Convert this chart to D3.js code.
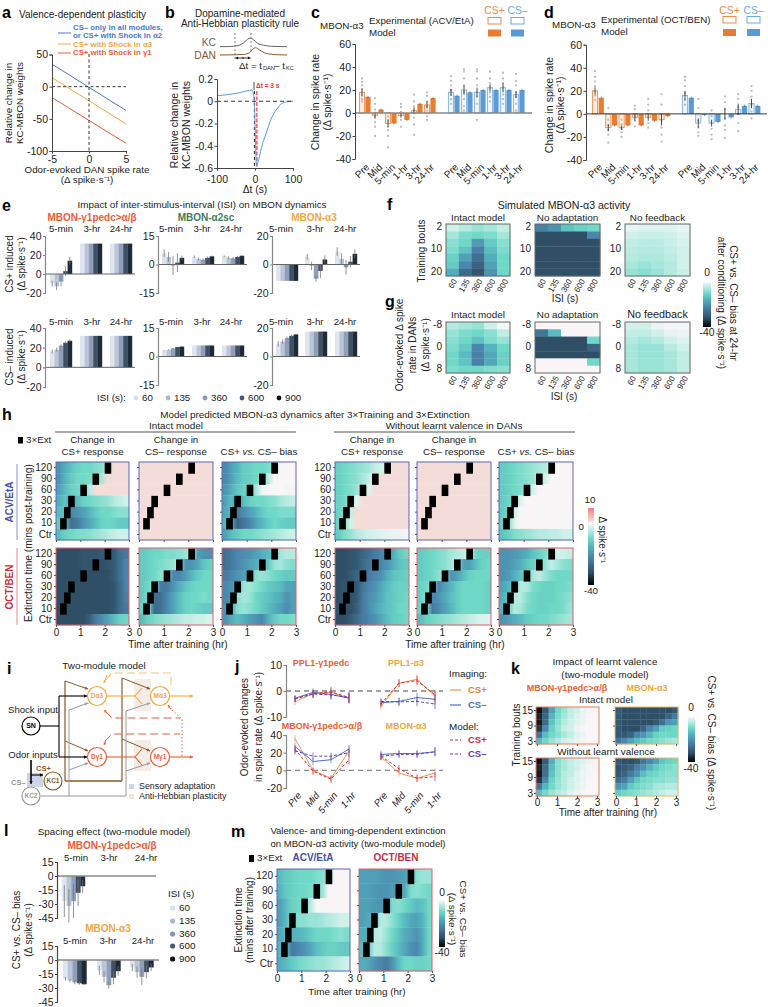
<!DOCTYPE html>
<html><head><meta charset="utf-8">
<script src="https://cdn.jsdelivr.net/npm/d3@7"></script>
<style>html,body{margin:0;background:#fff}svg{display:block;font-family:"Liberation Sans",Arial,sans-serif}</style>
</head><body><script>
// ---------- DATA ----------
const aDan=[-5,5];
const aBlue=[35,-37], aOrange=[14,-58], aRed=[-17,-88];
const bDt=[-100,-50,-8,-3,0,2,4,6,10,15,20,25,32,40,50,60,70,85,100];
const bW=[.05,.07,.1,.04,-.2,-.45,-.58,-.57,-.52,-.45,-.38,-.33,-.26,-.18,-.11,-.06,-.02,-.005,0];
const kcT=[0,10,18,24,28,31,34,38,44,52,68];
const kcY=[0,.02,.12,.45,.85,1,.8,.4,.18,.05,0];
const danT=[0,15,24,30,33,36,40,45,52,60,68];
const danY=[0,.03,.08,.3,.75,1,.7,.3,.1,.03,0];

const phase=["Pre","Mid","5-min","1-hr","3-hr","24-hr"];
const cPlusExp=[18,-2,-9,-2,2,7], cPlusMod=[14,3,-9,-6,8,13];
const cMinusExp=[18,20,18,22,22,16], cMinusMod=[15,18,20,20,20,20];
const cPlusErr=[3,3,3,2,3,3], cMinusErr=[3,4,4,3,4,3];
const cPlusDots=[[30,27,24,21,18,15,12,10],[13,8,3,-3,-8,-12,-20],[-3,-6,-12,-15,-20,-30],[8,5,1,-2,-6,-12],[16,10,6,2,-4,-10,-19],[18,15,10,6,2,-3,-6]];
const cMinusDots=[[32,28,24,20,16,12,8],[38,36,30,24,18,12,6,2],[38,36,30,24,18,14,8,-6],[36,30,26,22,18,14,10],[35,30,26,22,16,12,8],[34,28,24,18,14,8,2]];
const dPlusExp=[20,-12,-12,-3,-3,-5], dPlusMod=[14,-10,-10,-10,-6,-2];
const dMinusExp=[16,-8,-8,0,4,9], dMinusMod=[14,-1,-7,-3,7,7];
const dPlusErr=[3,3,2,3,3,5], dMinusErr=[4,4,3,5,5,4];
const dPlusDots=[[37,32,28,24,20,16,12],[5,-5,-10,-14,-18,-25],[-5,-9,-13,-16,-20],[7,4,-2,-6,-11],[13,8,3,-3,-8,-12],[17,8,0,-6,-12,-18,-24]];
const dMinusDots=[[32,29,24,18,12,8],[13,5,-6,-12,-16,-19],[3,-2,-8,-13,-18,-22],[15,10,4,-4,-10,-14,-21],[17,13,6,0,-8,-15],[24,20,15,8,2,-4]];

const isi=[60,135,360,600,900];
const isiColors=["#dfe5ef","#bac5d8","#8f9fba","#3f5064","#1d2a3a"];
const isiDots=["#d5dcea","#a9b7cc","#7f97b8","#47596e","#0d1520"];
const timeGroups=["5-min","3-hr","24-hr"];
const eG1Plus=[[-10,-13,-8,3,14],[32,32,32,32,32],[32,32,32,32,32]];
const eG1PlusErr=[[3,4,5,5,4],[0,0,0,0,0],[0,0,0,0,0]];
const eA2Plus=[[6,4,-.5,1,3.5],[4,3,2.5,3.5,4.3],[4.3,3.5,3.2,4,4.6]];
const eA2PlusErr=[[2,2.5,5,5,1.2],[.7,.6,.7,.7,.4],[.5,.7,.7,.5,.3]];
const eA3Plus=[[-11.5,-11.5,-11.5,-11.5,-11.5],[5.5,-1,-10,-4.5,3.5],[9,4,-2,2,7.5]];
const eA3PlusErr=[[0,0,0,0,0],[2,3,2,5,3],[3,4,5,4,3]];
const eG1Minus=[[16,18,22,25,27],[32,32,32,32,32],[32,32,32,32,32]];
const eG1MinusErr=[[2,2,1.5,1.5,1.5],[0,0,0,0,0],[0,0,0,0,0]];
const eA2Minus=[[3,3.5,4.3,5,5.2],[5.8,5.8,5.8,5.8,5.8],[5.8,5.8,5.8,5.8,5.8]];
const eA2MinusErr=[[.3,.3,.3,.2,.2],[0,0,0,0,0],[0,0,0,0,0]];
const eA3Minus=[[9,10.5,13,14.5,15.5],[17.5,17.5,17.5,17.5,17.5],[17.5,17.5,17.5,17.5,17.5]];
const eA3MinusErr=[[2,1.5,1,.8,.5],[0,0,0,0,0],[0,0,0,0,0]];

const fIntact=[[-3,-5,-7,-6,-4],[-6,-9,-10,-9,-6],[-8,-10,-19,-12,-8],[-9,-13,-23,-14,-9],[-11,-18,-26,-16,-10],[-12,-22,-28,-18,-10],[-16,-27,-31,-20,-10]];
const fNoAdapt=[[-23,-20,-13,-11,-10],[-32,-32,-32,-32,-22],[-32,-32,-32,-32,-32],[-32,-32,-32,-32,-32],[-32,-32,-32,-32,-32],[-32,-32,-32,-32,-32],[-32,-32,-32,-32,-32]];
const fNoFeed=[[-1.5,-2,-2,-2,-1.5],[-3,-3.5,-3.5,-3,-2],[-4,-4.5,-4.5,-3.5,-2.5],[-4.5,-5,-5,-4,-3],[-5,-5.5,-5.5,-4.5,-3],[-6,-7,-6,-5,-3],[-7,-8,-7,-5,-3.5]];
const gIntact=[[-5,-6,-7,-3,-.5],[-7,-9,-10,-8,-4],[-8,-10,-13,-9,-7],[-9,-12,-22,-15,-10],[-10,-14,-23,-17,-11],[-10,-13,-23,-17,-11],[-9,-10,-10,-9,-8]];
const gNoAdapt=[[0,0,0,0,0],[-25,-14,0,0,0],[-32,-32,-32,-32,-10],[-32,-32,-32,-32,-28],[-32,-32,-32,-32,-32],[0,0,0,0,-10],[0,0,0,0,0]];
const gNoFeed=[[-3,-3,-1,-.5,-.5],[-4,-4,-3,-1.5,-1],[-5,-6,-5,-3,-2],[-6,-7,-7,-5,-3],[-6,-7,-7,-6,-4],[-6,-7,-7,-6,-4],[-6,-7,-7,-6,-4]];
const bouts=["2","10","20"];

const extLabels=["120","90","60","30","20","10","Ctr"];
const extStart=[2,1.5,1,.5,.33,.17,null];
const pink=[1,1,1,1,1,1,1,1,1,1,1,1];
const hA1=[[-20,-16,-13,-11,-10,-10,-9,-8,-5,1,1,1],[-20,-15,-12,-10,-10,-9,-8,-6,1,1,1,1],[-18,-14,-11,-10,-9,-5,1,1,1,1,1,1],[-16,-13,-18,-14,-11,-10,-9,-8,-7,-5,-4,-3],[-14,-13,-22,-20,-18,-15,-12,-10,-10,-9,-8,-8],[-12,-14,-26,-24,-20,-17,-14,-11,-10,-11,-12,-12],[-14,-11,-10,-9,-9,-8,-7,-6,-5,-4,-3,-3]];
const hA2=[pink,pink,pink,pink,pink,pink,pink];
const hA3=[[-22,-18,-15,-12,-11,-10,-10,-9,-7,0,0,0],[-22,-18,-14,-12,-11,-10,-8,-5,0,0,0,0],[-20,-16,-13,-11,-10,-6,-1,-.5,0,0,-.5,-.5],[-18,-14,-19,-14,-11,-10,-10,-9,-8,-6,-5,-4],[-17,-15,-24,-21,-18,-15,-12,-10,-10,-9,-9,-9],[-15,-17,-28,-25,-22,-18,-15,-12,-10,-11,-12,-12],[-18,-14,-12,-10,-10,-9,-8,-7,-6,-5,-4,-3]];
const hA4=[[-11,-10,-9,-8,-7,-6,-4,-3,-2,1,1,1],[-11,-10,-9,-8,-6,-4,-2,1,1,1,1,1],[-11,-10,-9,-7,-4,-2,1,1,1,1,1,1],[-11,-10,-6,-2,1,1,1,1,1,1,1,1],[-11,-9,-4,1,1,1,1,1,1,1,1,1],[-11,-8,-3,1,1,1,1,1,1,1,1,1],[-12,-9,-7,-5,-4,-3,-2.5,-2,-1.5,-1,-1,-.5]];
const hA5=hA2;
const hA6=[[-12,-11,-10,-9,-8,-7,-6,-5,-4,0,0,0],[-12,-11,-10,-9,-8,-7,-5,-3,0,0,0,0],[-12,-11,-10,-9,-6,-3,0,0,0,0,0,0],[-12,-11,-8,-2,0,0,0,0,0,0,0,0],[-12,-10,-3,0,0,0,0,0,0,0,0,0],[-11,-9,-2,0,0,0,0,0,0,0,-.3,-.3],[-13,-11,-9,-8,-7,-6,-5,-5,-4,-4,-3,-3]];
const hO1=[[-32,-32,-32,-32,-31,-31,-31,-30,-31,-30,-26,-24],[-32,-32,-32,-32,-31,-31,-32,-32,-31,-30,-26,-22],[-32,-32,-32,-32,-32,-32,-32,-32,-32,-30,-26,-22],[-32,-32,-32,-32,-32,-32,-32,-32,-32,-31,-27,-22],[-32,-32,-32,-32,-32,-32,-32,-32,-32,-31,-27,-23],[-32,-32,-32,-32,-32,-32,-32,-32,-32,-31,-27,-24],[-32,-32,-32,-32,-32,-29,-24,-21,-18,-14,-11,-10]];
const hO2=[[-12,-11,-10,-10,-9,-9,-8,-7,-5,-18,-20,-21],[-12,-11,-10,-9,-8,-7,-5,-20,-20,-17,-13,-11],[-12,-11,-10,-8,-6,-22,-22,-19,-15,-12,-10,-10],[-12,-10,-8,-24,-24,-20,-16,-13,-11,-10,-10,-10],[-12,-9,-26,-26,-22,-18,-14,-11,-10,-10,-9,-10],[-11,-9,-27,-26,-22,-18,-14,-11,-10,-11,-12,-12],[-14,-11,-9,-8,-7,-6,-5,-4,-4,-3,-3,-2]];
const hO3=[[-26,-24,-22,-21,-20,-18,-16,-14,-12,-6,-5,-5],[-26,-24,-22,-20,-18,-16,-14,-12,-7,-6,-8,-9],[-24,-22,-20,-18,-16,-8,-7,-8,-10,-11,-12,-12],[-22,-20,-18,-7,-6,-8,-10,-12,-13,-14,-17,-18],[-22,-20,-8,-6,-7,-10,-12,-13,-15,-16,-20,-18],[-20,-18,-8,-7,-8,-10,-12,-14,-16,-18,-21,-18],[-20,-16,-14,-16,-18,-20,-22,-16,-12,-10,-10,-9]];
const hO4=[[-32,-32,-31,-30,-28,-26,-24,-22,-20,-16,-12,-10],[-32,-32,-31,-30,-27,-25,-23,-22,-20,-16,-13,-12],[-32,-32,-30,-28,-26,-24,-22,-20,-16,-13,-12,-11],[-32,-31,-32,-30,-25,-22,-20,-17,-14,-12,-11,-11],[-32,-31,-32,-30,-24,-21,-19,-16,-13,-12,-11,-10],[-31,-31,-32,-29,-24,-21,-18,-15,-13,-12,-10,-10],[-32,-32,-30,-27,-24,-22,-20,-17,-14,-12,-11,-10]];
const hO5=[[-12,-11,-10,-9,-8,-6,-5,-4,-3,-10,-11,-11],[-12,-11,-10,-9,-8,-6,-4,-18,-18,-14,-11,-10],[-12,-11,-10,-8,-5,-20,-18,-14,-11,-10,-10,-10],[-11,-10,-7,-22,-18,-15,-12,-10,-10,-10,-10,-11],[-11,-8,-22,-20,-17,-14,-12,-10,-10,-10,-10,-11],[-10,-8,-24,-21,-18,-15,-12,-10,-10,-10,-10,-11],[-14,-11,-10,-9,-8,-7,-6,-5,-4,-3,-2,-2]];
const hO6=[[-20,-20,-19,-18,-16,-13,-11,-9,-6,-3,-3,-4],[-20,-20,-18,-16,-13,-11,-9,-7,-4,-6,-8,-9],[-20,-19,-16,-13,-11,-6,-4,-7,-9,-10,-10,-10],[-18,-15,-12,-5,-5,-9,-10,-11,-11,-10,-10,-9],[-16,-13,-5,-5,-8,-10,-11,-11,-11,-10,-9,-8],[-15,-12,-5,-6,-9,-10,-11,-11,-10,-10,-9,-7],[-20,-18,-16,-14,-12,-11,-10,-10,-9,-8,-7,-6]];

const jPhase=["Pre","Mid","5-min","1-hr"];
const jPPLg=[[-4.2,-1,-.5,-2.8],[-2.8,-.5,-1.3,-2.8],[-3,-1,-.3,-2.5],[-3,-1.2,-1.5,-2.5]];
const jPPLa=[[-6,3,4.5,-2],[-4.5,-4,-2.5,-3.2],[-5,3,4,-1.5],[-4,-4.2,-4,-5]];
const jMBg=[[36,0,-9,22],[27,10,12,24],[24,-1,-10,12],[22,16,16,20]];
const jMBa=[[15,-3,-9,-3],[18,19,19,21],[16,2,-9,-7],[16,18,18,21]];
const jErrTop=[1.2,1.5,1.8,2], jErrBot=[4,4,4,5];

const kG1=[[-38,-30,-18,-10,-7,-4,-3,-1,-.5,0],[-36,-28,-15,-9,-6,-4,-2,-1,0,0],[-37,-27,-13,-8,-5,-3,-2,-1,0,0],[-34,-22,-11,-7,-4,-3,-1,-.5,0,0],[-25,-14,-10,-8,-6,-4,-2,-1,0,0],[-14,-10,-7,-5,-3,-2,-1,-.5,0,0]];
const kA3=[[-30,-32,-32,-32,-32,-32,-32,-32,-32,-30],[-30,-32,-32,-32,-32,-32,-32,-32,-28,-24],[-30,-32,-32,-32,-32,-32,-30,-26,-20,-18],[-30,-32,-32,-32,-28,-22,-18,-12,-11,-10],[-30,-30,-28,-22,-20,-15,-11,-10,-10,-10],[-25,-22,-18,-14,-12,-10,-9,-8,-7,-6]];
const kG1No=[[-38,-30,-16,-8,-6,-4,-3,-2,-1,-.5],[-36,-27,-14,-8,-6,-4,-3,-1.5,-.5,-.5],[-37,-26,-13,-8,-5,-4,-2,-1,-.5,0],[-34,-22,-11,-7,-5,-3,-2,-1,0,0],[-25,-15,-10,-7,-5,-3,-2,-1,0,0],[-14,-10,-7,-5,-4,-2,-1,-.5,0,0]];
const kA3No=[[-30,-32,-32,-30,-25,-22,-18,-13,-11,-10],[-31,-30,-28,-23,-20,-15,-12,-10,-9,-8],[-30,-28,-24,-20,-14,-11,-10,-9,-8,-8],[-26,-24,-18,-13,-10,-9,-8,-8,-7,-7],[-20,-18,-12,-10,-9,-8,-6,-6,-5,-5],[-12,-10,-9,-8,-7,-6,-5,-4,-3,-3]];

const lG1=[[-27,-32,-27,-18,-11],[0,0,0,0,0],[0,0,0,0,0]];
const lG1Err=[[17,18,18,14,7],[0,0,0,0,0],[0,0,0,0,0]];
const lA3=[[-20,-22,-24,-25,-26],[-11,-18,-27,-19,-12],[-8,-13,-18,-13,-8]];
const lA3Err=[[2,2,2,1.5,1],[5,6,4,7,5],[4,6,9,7,4]];

const mAcv=[[-14,-12,-11,-10,-10,-10,-9,-8,-7,0,0,0],[-15,-12,-11,-10,-10,-9,-8,-7,0,0,0,0],[-18,-14,-11,-10,-9,-5,0,0,0,0,0,0],[-18,-14,-9,-8,-8,-7,-7,-6,-5,-4,-3,-3],[-17,-14,-16,-15,-14,-12,-10,-10,-10,-9,-8,-9],[-15,-14,-24,-22,-20,-17,-14,-12,-11,-11,-12,-12],[-16,-14,-12,-10,-9,-8,-7,-7,-6,-5,-4,-3]];
const mOct=[[-18,-18,-18,-19,-20,-20,-19,-18,-15,-8,-7,-7],[-18,-18,-19,-20,-20,-19,-18,-17,-9,-8,-9,-10],[-18,-18,-19,-20,-19,-9,-8,-10,-12,-14,-13,-10],[-18,-17,-16,-5,-5,-8,-11,-14,-17,-18,-15,-10],[-16,-16,-5,-4,-7,-10,-13,-16,-18,-20,-16,-10],[-14,-13,-5,-5,-8,-11,-14,-17,-20,-22,-16,-10],[-16,-17,-20,-22,-24,-20,-14,-10,-10,-11,-11,-10]];

// ---------- COLOURS ----------
const BLUE="#4a7ac8",ORG="#f0a83c",RED="#ee5c36",INK="#222",ACV="#5a67b8",OCT="#d9606a",GREEN="#3d7d5a",RED2="#d22a3a",PURPLE="#6a3ab0",BROWN="#8a5a2b",TAN="#a5825c",GRAY="#9a9a9a";
const cmap=d3.scaleLinear().domain([10,5,1,0,-3,-10,-15,-22,-32,-40]).range(["#ee7d7d","#f2b9b3","#f4dcd8","#faf6f8","#cff1ea","#6fd8c6","#55b5be","#4a86ad","#2f4f66","#000"]).clamp(true);

// ---------- HELPERS ----------
const svg=d3.select("body").append("svg").attr("width",768).attr("height",1007);
const defs=svg.append("defs");
let gid=0;
function T(x,y,s,o={}){
  const fs=(o.size||9.5)*(o.bold?1:1.03);
  const t=svg.append("text").attr("x",x).attr("y",y).text(s)
    .attr("font-size",fs).attr("fill",o.fill||INK).attr("text-anchor",o.a||"middle").attr("dominant-baseline","middle");
  if(o.bold)t.attr("font-weight","bold");
  if(o.italic)t.attr("font-style","italic");
  if(o.rot!=null)t.attr("transform",`rotate(${o.rot},${x},${y})`);
  return t;
}
const letter=(x,y,s)=>T(x,y,s,{size:16,bold:true,a:"start",fill:"#000"});
function axL(x,scale,ticks,o={}){
  const g=svg.append("g").attr("transform",`translate(${x},0)`).call(d3.axisLeft(scale).tickValues(ticks).tickSize(o.ts??2.5).tickPadding(o.tp??1.5).tickFormat(o.fmt||String));
  g.selectAll("text").attr("font-size",o.size||10.5).attr("fill",INK).attr("font-family","inherit");
  g.selectAll("line,path").attr("stroke",o.stroke||"#444").attr("stroke-width",o.sw||1);
  return g;
}
function axB(y,scale,ticks,o={}){
  const g=svg.append("g").attr("transform",`translate(0,${y})`).call(d3.axisBottom(scale).tickValues(ticks).tickSize(o.ts??2.5).tickPadding(o.tp??2).tickFormat(o.fmt||String));
  g.selectAll("text").attr("font-size",o.size||10.5).attr("fill",INK).attr("font-family","inherit");
  g.selectAll("line,path").attr("stroke",o.stroke||"#444").attr("stroke-width",o.sw||1);
  return g;
}
function line(x1,y1,x2,y2,c,w=1,dash){const l=svg.append("line").attr("x1",x1).attr("y1",y1).attr("x2",x2).attr("y2",y2).attr("stroke",c).attr("stroke-width",w);if(dash)l.attr("stroke-dasharray",dash);return l;}
function poly(pts,c,w=1,dash){const l=svg.append("path").attr("d",d3.line()(pts)).attr("fill","none").attr("stroke",c).attr("stroke-width",w);if(dash)l.attr("stroke-dasharray",dash);return l;}
function rect(x,y,w,h,f){return svg.append("rect").attr("x",x).attr("y",y).attr("width",w).attr("height",h).attr("fill",f);}
function arrow(x1,y1,x2,y2,c,w=1,sz=3.5){
  line(x1,y1,x2,y2,c,w);
  const a=Math.atan2(y2-y1,x2-x1),p=[[x2,y2],[x2-sz*Math.cos(a-.5),y2-sz*Math.sin(a-.5)],[x2-sz*Math.cos(a+.5),y2-sz*Math.sin(a+.5)]];
  svg.append("path").attr("d",d3.line()(p)+"Z").attr("fill",c);
}
function circ(x,y,r,c,w=1.2,lab,o={}){
  svg.append("circle").attr("cx",x).attr("cy",y).attr("r",r).attr("fill","#fff").attr("stroke",c).attr("stroke-width",w);
  if(lab)T(x,y,lab,{size:o.size||6.5,bold:true,fill:c});
}
function heat(x0,x1,y0,y1,rows,o={}){
  const ny=d3.scaleBand().domain(d3.range(rows.length)).range([y0,y1]);
  const nx=d3.scaleBand().domain(d3.range(rows[0].length)).range([x0,x1]);
  rows.forEach((r,i)=>{
    if(o.smooth){
      const id="g"+(gid++),lg=defs.append("linearGradient").attr("id",id);
      r.forEach((v,j)=>lg.append("stop").attr("offset",(j+.5)/r.length).attr("stop-color",cmap(v)));
      rect(x0,ny(i),x1-x0,ny.bandwidth()+.3,`url(#${id})`);
    } else svg.append("g").selectAll("rect").data(r).join("rect").attr("x",(d,j)=>nx(j)).attr("y",ny(i)).attr("width",nx.bandwidth()+.3).attr("height",ny.bandwidth()+.3).attr("fill",d=>cmap(d));
  });
  return ny;
}
function box(x0,x1,y0,y1,c,w=1){svg.append("rect").attr("x",x0).attr("y",y0).attr("width",x1-x0).attr("height",y1-y0).attr("fill","none").attr("stroke",c).attr("stroke-width",w);}
function colorbar(x,w,y0,y1,hi,lo){
  const id="g"+(gid++),lg=defs.append("linearGradient").attr("id",id).attr("x1",0).attr("x2",0).attr("y1",0).attr("y2",1);
  d3.range(0,21).forEach(i=>lg.append("stop").attr("offset",i/20).attr("stop-color",cmap(hi+(lo-hi)*i/20)));
  rect(x,y0,w,y1-y0,`url(#${id})`);
}

// ---------- a ----------
letter(2,14,"a");
T(19,15,"Valence-dependent plasticity",{a:"start",size:9.7});
const aL=[[aBlue,BLUE],[aOrange,ORG],[aRed,RED]];
const ax=d3.scaleLinear().domain([-5,5]).range([52,126]),ay=d3.scaleLinear().domain([-100,50]).range([151,54.5]);
aL.forEach(([v,c])=>poly(aDan.map((d,i)=>[ax(d),ay(v[i])]),c,1));
line(ax(0),54,ax(0),151,"#222",.9,"3 2.5");line(52,ay(0),126,ay(0),"#222",.9,"3 2.5");
axL(52,ay,[50,0,-50,-100]);axB(151,ax,[-5,0,5]);
[[33,BLUE],[44,ORG],[53,RED]].forEach(([y,c])=>line(58,y,71,y,c,1));
T(73,28,"CS– only in all modules,",{a:"start",size:7.8,bold:true,fill:BLUE});
T(73,36,"or CS+ with Shock in α2",{a:"start",size:7.8,bold:true,fill:BLUE});
T(73,44.5,"CS+ with Shock in α3",{a:"start",size:7.8,bold:true,fill:ORG});
T(73,53,"CS+ with Shock in γ1",{a:"start",size:7.8,bold:true,fill:RED});
T(9,103,"Relative change in",{rot:-90,size:9.5});T(20,103,"KC-MBON weights",{rot:-90,size:9.5});
T(87,170,"Odor-evoked DAN spike rate",{size:9.5});T(87,180,"(Δ spike·s⁻¹)",{size:9.5});

// ---------- b ----------
letter(165,14,"b");
T(240,14,"Dopamine-mediated",{size:9.7});T(240,24,"Anti-Hebbian plasticity rule",{size:9.7});
T(216,43,"KC",{a:"end",size:10,fill:"#666"});T(216,56,"DAN",{a:"end",size:10,fill:"#8a5a2b"});
const trX=d3.scaleLinear().domain([0,68]).range([220,287]);
const kcSc=d3.scaleLinear().domain([0,1]).range([46.7,38]),danSc=d3.scaleLinear().domain([0,1]).range([55,47.7]);
svg.append("path").attr("d",d3.line().curve(d3.curveMonotoneX).x((d,i)=>trX(kcT[i])).y(d=>kcSc(d))(kcY)).attr("fill","none").attr("stroke","#666");
svg.append("path").attr("d",d3.line().curve(d3.curveMonotoneX).x((d,i)=>trX(danT[i])).y(d=>danSc(d))(danY)).attr("fill","none").attr("stroke","#8a5a2b");
line(235,33,235,60,"#666",.8,"2 2");line(251,33,251,52,"#8a5a2b",.8,"2 2");
arrow(244,58,235.5,58,"#000",.8,3);arrow(242,58,250.5,58,"#000",.8,3);
T(239,66,"Δt = t",{a:"start",size:9.5});T(263,68,"DAN",{a:"start",size:5.5});T(274,66,"– t",{a:"start",size:9.5});T(286,68,"KC",{a:"start",size:5.5});
const bx=d3.scaleLinear().domain([-100,100]).range([217,293]),by=d3.scaleLinear().domain([-.6,.2]).range([168,79]);
line(bx(0)-1,82,bx(0)-1,90,"#222",.8);
line(bx(3)+.6,91,bx(3)+.6,168,"#ee6b78",1.8,"4 1.5");line(bx(0)-.6,91,bx(0)-.6,168,"#222",1,"3 3");
svg.append("path").attr("d",d3.line().curve(d3.curveMonotoneX).x((d,i)=>bx(bDt[i])).y(d=>by(d))(bW)).attr("fill","none").attr("stroke","#5a9ad8").attr("stroke-width",1);
line(217,by(0),293,by(0),"#222",.9,"4 3");
axL(217,by,[.2,0,-.2,-.4,-.6],{fmt:d=>d===0?"0":String(d)});axB(168,bx,[-100,0,100],{tp:5});
T(255,190,"Δt (s)",{size:10});
T(256,86,"Δt = 3 s",{a:"start",size:6.5,bold:true,fill:"#e8303f"});
T(175,125,"Relative change in",{rot:-90,size:10.2});T(187,125,"KC-MBON weights",{rot:-90,size:10.2});

// ---------- c,d ----------
function barPanel(o){
  const y=d3.scaleLinear().domain([-40,60]).range(o.yr);
  const cl=[["#ee8a4a","#e87d32"],["#7fb0e0","#5b9bd5"]];
  [[o.pe,o.pm,o.pd,o.perr,0,o.plus0],[o.me,o.mm,o.md,o.merr,1,o.minus0]].forEach(([e,m,dots,err,ci,x0])=>{
    const w=5.2;
    const xp=i=>x0+o.step*i;
    svg.append("g").selectAll("rect").data(e).join("rect").attr("x",(d,i)=>xp(i)-w/2).attr("width",w).attr("y",d=>y(Math.max(d,0))).attr("height",d=>Math.abs(y(d)-y(0))).attr("fill",ci?"#eef5fc":"#fdeee2").attr("stroke",cl[ci][0]).attr("stroke-width",.9);
    svg.append("g").selectAll("rect").data(m).join("rect").attr("x",(d,i)=>xp(i)+o.mOff-w/2).attr("width",w).attr("y",d=>y(Math.max(d,0))).attr("height",d=>Math.abs(y(d)-y(0))).attr("fill",cl[ci][1]);
    dots.forEach((ds,i)=>svg.append("g").selectAll("circle").data(ds).join("circle").attr("cx",xp(i)).attr("cy",d=>y(d)).attr("r",1.15).attr("fill","#bcbcbc"));
    e.forEach((v,i)=>line(xp(i),y(v-err[i]),xp(i),y(v+err[i]),"#222",.8));
    m.forEach((v,i)=>line(xp(i)+o.mOff,y(v-1),xp(i)+o.mOff,y(v+1),"#555",.6));
    phase.forEach((p,i)=>T(xp(i)+6,o.lab,p,{size:9.6,a:"end",rot:-45}));
  });
  line(o.ax,y(0),o.xEnd,y(0),o.zc,o.zw);
  axL(o.ax,y,[60,40,20,0,-20,-40]);
}
letter(311,14,"c");
barPanel({yr:[159,44],ax:355,xEnd:532,plus0:362,minus0:451,step:13,mOff:6,pe:cPlusExp,pm:cPlusMod,pd:cPlusDots,perr:cPlusErr,me:cMinusExp,mm:cMinusMod,md:cMinusDots,merr:cMinusErr,lab:166,zc:"#888",zw:1.4});
T(320,26,"MBON-α3",{a:"start",size:9.5});
T(369,21,"Experimental (ACV/EtA)",{a:"start",size:9.5});T(369,33,"Model",{a:"start",size:9.5});
T(316,102,"Change in spike rate",{rot:-90,size:10.2});T(328,102,"(Δ spike·s⁻¹)",{rot:-90,size:10.2});
function cdLegend(xa,xb,ya,yb){
  T(xa+6.5,11,"CS+",{size:10,fill:"#ee8a4a"});T(xb+6.5,11,"CS–",{size:10,fill:"#6fa8dc"});
  svg.append("rect").attr("x",xa).attr("y",ya).attr("width",13).attr("height",6.5).attr("fill","#fff").attr("stroke","#ee8a4a");
  svg.append("rect").attr("x",xb).attr("y",ya).attr("width",13).attr("height",6.5).attr("fill","#fff").attr("stroke","#6fa8dc");
  rect(xa,yb,13,7,"#e87d32");rect(xb,yb,13,7,"#5b9bd5");
}
cdLegend(488,511,17.5,29.5);
letter(544,14,"d");
barPanel({yr:[160,44.7],ax:586,xEnd:767,plus0:595,minus0:685,step:13.3,mOff:6.3,pe:dPlusExp,pm:dPlusMod,pd:dPlusDots,perr:dPlusErr,me:dMinusExp,mm:dMinusMod,md:dMinusDots,merr:dMinusErr,lab:166,zc:"#222",zw:.9});
T(552,25,"MBON-α3",{a:"start",size:9.5});
T(601,20,"Experimental (OCT/BEN)",{a:"start",size:9.5});T(601,32,"Model",{a:"start",size:9.5});
T(550,105,"Change in spike rate",{rot:-90,size:10.2});T(561,105,"(Δ spike·s⁻¹)",{rot:-90,size:10.2});
cdLegend(723,747,16.5,29);

// ---------- e ----------
letter(2,207,"e");
T(202,205,"Impact of inter-stimulus-interval (ISI) on MBON dynamics",{size:9.6});
T(92,218,"MBON-γ1pedc>α/β",{size:10,bold:true,fill:RED});T(206,218,"MBON-α2sc",{size:10,bold:true,fill:GREEN});T(314,218,"MBON-α3",{size:10,bold:true,fill:ORG});
function isiBars(o){
  const y=d3.scaleLinear().domain(o.dom).range(o.r);
  const w=o.w||4.4;
  o.data.forEach((g,gi)=>{
    const x=d3.scaleBand().domain(isi).range([o.g0[gi],o.g0[gi]+5*w]);
    svg.append("g").selectAll("rect").data(g).join("rect").attr("x",(d,i)=>x(isi[i])).attr("width",x.bandwidth()+.2).attr("y",d=>y(Math.max(d,0))).attr("height",d=>Math.abs(y(d)-y(0))).attr("fill",(d,i)=>isiColors[i]);
    g.forEach((v,i)=>{if(o.err[gi][i])line(x(isi[i])+w/2,y(v-o.err[gi][i]),x(isi[i])+w/2,y(v+o.err[gi][i]),"#777",.8);});
    if(o.labY)T(o.labs[gi],o.labY,timeGroups[gi],{size:9.4});
  });
  line(o.ax,y(0),o.xEnd,y(0),o.zc||"#666",o.zw||1);
  axL(o.ax,y,o.ticks,{ts:2,stroke:o.ac||"#888",sw:1.2});
}
const eCol=[{ax:45,g0:[50,80,110],xEnd:135,labs:[61,92,121]},{ax:158,g0:[162,192,222],xEnd:247,labs:[171,202,231]},{ax:272,g0:[276,305,335],xEnd:360,labs:[281,315,345]}];
isiBars({...eCol[0],dom:[-20,40],r:[293,236],ticks:[40,20,0,-20],data:eG1Plus,err:eG1PlusErr,labY:229});
isiBars({...eCol[1],dom:[-15,15],r:[293,236],ticks:[15,0,-15],data:eA2Plus,err:eA2PlusErr,labY:229});
isiBars({...eCol[2],dom:[-20,20],r:[293,236],ticks:[20,0,-20],data:eA3Plus,err:eA3PlusErr,labY:229});
isiBars({...eCol[0],dom:[-20,40],r:[387,328],ticks:[40,20,0,-20],data:eG1Minus,err:eG1MinusErr,labY:322});
isiBars({...eCol[1],dom:[-15,15],r:[385,328],ticks:[15,0,-15],data:eA2Minus,err:eA2MinusErr,labY:322});
isiBars({...eCol[2],dom:[-20,20],r:[385,328],ticks:[20,0,-20],data:eA3Minus,err:eA3MinusErr,labY:322});
T(10,264,"CS+ induced",{rot:-90,size:9.7});T(22,264,"(Δ spike·s⁻¹)",{rot:-90,size:9.7});
T(10,357,"CS– induced",{rot:-90,size:9.7});T(22,357,"(Δ spike·s⁻¹)",{rot:-90,size:9.7});
T(97,398,"ISI (s):",{a:"start",size:9.5});
[136,168,205,242,279].forEach((x,i)=>{svg.append("circle").attr("cx",x).attr("cy",398).attr("r",2.4).attr("fill",isiDots[i]);T(x+6,398,String(isi[i]),{a:"start",size:9.5});});

// ---------- f,g ----------
letter(387,206,"f");letter(385,303,"g");
T(564,206,"Simulated MBON-α3 activity",{size:10.3});
const fgX=[[446,510],[535,600],[625,690]];
function fgRow(y0,y1,maps,titles,ty,ticks,tvals){
  maps.forEach((m,i)=>{
    const [a,b]=fgX[i];
    heat(a,b,y0,y1,m);
    box(a,b,y0,y1,"#666",1);
    T((a+b)/2,ty,titles[i],{size:(ty>300&&i===2)?10.5:9.6});
    const x=d3.scaleBand().domain(isi).range([a,b]);
    const ys=d3.scaleLinear().domain([0,tvals[tvals.length-1]]).range([y0+3.5,y1-3.5]);
    ticks.forEach((t,k)=>T(a-4,ys(tvals[k]),t,{a:"end",size:9.8}));
    isi.forEach(v=>T(x(v)+x.bandwidth()/2+3,y1+4,String(v),{a:"end",size:8,rot:-60}));
  });
}
fgRow(224,276,[fIntact,fNoAdapt,fNoFeed],["Intact model","No adaptation","No feedback"],218,bouts,[0,2.9,6]);
fgRow(322,373,[gIntact,gNoAdapt,gNoFeed],["Intact model","No adaptation","No feedback"],315,["-8","0","8"],[0,3,6]);
T(422,251,"Training bouts",{rot:-90,size:9.7});T(565,299,"ISI (s)",{size:9.7});T(564,397,"ISI (s)",{size:9.7});
T(400,345,"Odor-evoked Δ spike",{rot:-90,size:9.7});T(413,345,"rate in DANs",{rot:-90,size:9.7});T(426,345,"(Δ spike·s⁻¹)",{rot:-90,size:9.7});
colorbar(703,8,282,327,0,-40);T(707,273,"0",{size:10});T(707,333,"-40",{size:10});
T(733,303,"CS+ vs. CS– bias at 24-hr",{rot:90,size:9.7});T(721,303,"after conditioning (Δ spike·s⁻¹)",{rot:90,size:9.7});

// ---------- h ----------
letter(2,416,"h");
T(315,415,"Model predicted MBON-α3 dynamics after 3×Training and 3×Extinction",{size:9.6});
T(176,426,"Intact model",{size:9.6});line(55,432,296,432,"#555",1);
T(454,426,"Without learnt valence in DANs",{size:9.6});line(334,432,575,432,"#555",1);
rect(18,437,5,6.5,"#000");T(26,440,"3×Ext",{a:"start",size:9.5});
const hX=[[56,129],[139,213],[222,296],[335,409],[417,491],[499,573]];
const hTitles=[["Change in","CS+ response"],["Change in","CS– response"],[null,"CS+ vs. CS– bias"],["Change in","CS+ response"],["Change in","CS– response"],[null,"CS+ vs. CS– bias"]];
hTitles.forEach((t,i)=>{const c=(hX[i][0]+hX[i][1])/2;if(t[0])T(c,440,t[0],{size:9.5});
  if(t[1].includes("vs.")){const tt=T(c,452,"",{size:9.5});tt.append("tspan").text("CS+ ");tt.append("tspan").attr("font-style","italic").text("vs.");tt.append("tspan").text(" CS– bias");}
  else T(c,452,t[1],{size:9.5});});
function extMap(a,b,y0,y1,rows,col,o={}){
  const ny=heat(a,b,y0,y1,rows,{smooth:true});
  const tx=d3.scaleLinear().domain([0,3]).range([a,b]);
  extStart.forEach((s,i)=>{if(s!=null)rect(tx(s),ny(i)+.4,tx(s+.27)-tx(s),ny.bandwidth()+.2,"#000");});
  box(a,b,y0,y1,col,1);
  const yB=d3.scaleBand().domain(extLabels).range([y0,y1]);
  const ya=svg.append("g").attr("transform",`translate(${a},0)`).call(d3.axisLeft(yB).tickSize(2).tickPadding(o.labels?2:0).tickFormat(o.labels?String:""));
  ya.selectAll("text").attr("font-size",10).attr("fill",INK).attr("font-family","inherit");ya.selectAll("line").attr("stroke","#555");ya.select("path").remove();
  const xa=svg.append("g").attr("transform",`translate(0,${y1})`).call(d3.axisBottom(tx).tickValues([0,1,2,3]).tickSize(2).tickPadding(2).tickFormat(o.xl?String:""));
  xa.selectAll("text").attr("font-size",10).attr("fill",INK).attr("font-family","inherit");xa.selectAll("line").attr("stroke","#555");xa.select("path").remove();
}
[hA1,hA2,hA3,hA4,hA5,hA6].forEach((m,i)=>extMap(hX[i][0],hX[i][1],462,540,m,ACV,{labels:i===0||i===3}));
[hO1,hO2,hO3,hO4,hO5,hO6].forEach((m,i)=>extMap(hX[i][0],hX[i][1],548,625,m,OCT,{labels:i===0||i===3,xl:true}));
T(10,502,"ACV/EtA",{rot:-90,bold:true,size:10,fill:"#4450b0"});line(17,464,17,540,"#8a92cc",1);
T(10,587,"OCT/BEN",{rot:-90,bold:true,size:10,fill:"#c8323f"});line(17,548,17,625,"#e08a92",1);
T(29,543,"Extinction time (mins post-training)",{rot:-90,size:10});
T(178,645,"Time after training (hr)",{size:9.8});T(455,645,"Time after training (hr)",{size:9.8});
colorbar(588,6,508,585,10,-40);T(590,500,"10",{size:9.5});T(584,527,"0",{size:9.5,a:"end"});T(591,591,"-40",{size:9.5});
T(602,540,"Δ spike·s⁻¹",{rot:90,size:9.7});

// ---------- i ----------
letter(7,670,"i");
T(104,666,"Two-module model",{size:9.6});
rect(134,679,17,32,"#f5ece6");rect(134,740,17,31,"#f5ece6");rect(27,773,16,14,"#ccd3ea");
line(65,681,65,781,TAN,1.6);line(65,781,122,781,TAN,1.8);line(122,678,122,781,BROWN,1.2);
arrow(65,681,88,689,BROWN,1);arrow(65,741,88,751,BROWN,1);arrow(122,678,150,689,BROWN,1);arrow(122,739,150,751,BROWN,1);
line(41,796,126,796,GRAY,1.2);line(69,796,69,710,GRAY,1);line(126,796,126,711,GRAY,1);
arrow(69,710,88,703,GRAY,1);arrow(69,770,88,763,GRAY,1);arrow(126,711,150,703,GRAY,1);arrow(126,771,150,763,GRAY,1);
line(40,726,59,726,"#000",1.1);line(59,696,59,757,"#000",1.1);arrow(59,696,87,696,"#000",1.1);arrow(59,757,87,757,"#000",1.1);
line(31,760,31,782,"#000",1.1);arrow(31,760,31,784,"#000",1.1);arrow(31,775,43,775,"#000",1.1);
line(107,696,135,696,ORG,1.1);line(135,696,142,688,ORG,1.1);line(135,696,142,704,ORG,1.1);arrow(170,696,193,696,ORG,1.1);
line(107,757,135,757,RED,1.1);line(135,757,142,749,RED,1.1);line(135,757,142,765,RED,1.1);arrow(170,757,193,757,RED,1.1);
poly([[106,680],[112,673],[171,673],[171,689]],"#f2c27a",1.1,"8 4");
poly([[106,712],[112,718],[180,718]],RED,1,"8 4");poly([[105,741],[112,734],[180,734]],RED,1,"8 4");arrow(106,740,104,745,RED,1,3);arrow(107,713,104,710,RED,1,3);arrow(107,675,104,683,ORG,1,3);
poly([[182,756],[182,719],[170,708]],RED,1,"1.5 2");arrow(171,709,168,705,RED,.8,3);
circ(97,696,9.5,ORG,1.2,"Dα3");circ(160,696,9.5,ORG,1.2,"Mα3");circ(97,757,9.5,RED,1.2,"Dγ1");circ(160,757,9.5,RED,1.2,"Mγ1");
circ(31,726,9,"#000",1.2,"SN",{size:7});circ(53,781,9,BROWN,1.2,"KC1");circ(31,796,9,GRAY,1.2,"KC2");
T(33,710,"Shock input",{size:9.3});T(33,755,"Odor inputs",{size:9.3});
T(36,769,"CS+",{a:"start",size:7.5,bold:true,fill:BROWN});T(11,783,"CS–",{a:"start",size:7.5,bold:true,fill:GRAY});
rect(129,784,5,5,"#ccd3ea");rect(129,794,5,5,"#f5e4da");
T(139,787,"Sensory adaptation",{a:"start",size:8.6});T(139,797,"Anti-Hebbian plasticity",{a:"start",size:8.6});

// ---------- j ----------
letter(235,668,"j");
const jStyles=[["#f2924c",1,null],["#4a70c8",1,null],[RED2,1,"3 2"],[PURPLE,1,"3 2"]];
function jPanel(data,x0,y,err){
  const x=d3.scalePoint().domain(jPhase).range([x0,x0+54]);
  data.forEach((s,si)=>{
    const [c,w,dash]=jStyles[si];
    const l=svg.append("path").attr("d",d3.line().x((d,i)=>x(jPhase[i])).y(d=>y(d))(s)).attr("fill","none").attr("stroke",c).attr("stroke-width",w);
    if(dash)l.attr("stroke-dasharray",dash);
    s.forEach((v,i)=>line(x(jPhase[i]),y(v-err[i]),x(jPhase[i]),y(v+err[i]),c,.7));
  });
}
const jyT=d3.scaleLinear().domain([-10,10]).range([717,665]),jyB=d3.scaleLinear().domain([-20,40]).range([788,735]);
line(286,jyT(0),443,jyT(0),"#444",1,"5 4");line(286,jyB(0),443,jyB(0),"#888",1.3,"5 4");
jPanel(jPPLg,295,jyT,jErrTop);jPanel(jPPLa,381,jyT,jErrTop);jPanel(jMBg,295,jyB,jErrBot);jPanel(jMBa,381,jyB,jErrBot);
axL(286,jyT,[10,0,-10],{stroke:"#888",sw:1.2});axL(286,jyB,[40,20,0,-20],{stroke:"#888",sw:1.2});
T(321,664,"PPL1-γ1pedc",{size:9,bold:true,fill:RED});T(406,664,"PPL1-α3",{size:9,bold:true,fill:ORG});
T(322,727,"MBON-γ1pedc>α/β",{size:9,bold:true,fill:RED});T(406,727,"MBON-α3",{size:9,bold:true,fill:ORG});
[295,381].forEach(x0=>jPhase.forEach((p,i)=>T(x0+18*i+5,794,p,{a:"end",size:9.4,italic:true,rot:-50})));
T(245,727,"Odor-evoked changes",{rot:-90,size:9.7});T(259,727,"in spike rate (Δ spike·s⁻¹)",{rot:-90,size:9.7});
T(449,674,"Imaging:",{a:"start",size:9.6});T(449,727,"Model:",{a:"start",size:9.6});
line(450,690,461,690,"#f2924c",1.2);T(468,690,"CS+",{a:"start",size:9.5,bold:true,fill:"#ee7f33"});
line(450,705,461,705,"#4a70c8",1.2);T(468,705,"CS–",{a:"start",size:9.5,bold:true,fill:"#4a70c8"});
line(450,740,461,740,RED2,1.2,"3 2");T(468,740,"CS+",{a:"start",size:9.5,bold:true,fill:RED2});
line(450,754,461,754,PURPLE,1.2,"3 2");T(468,754,"CS–",{a:"start",size:9.5,bold:true,fill:PURPLE});

// ---------- k ----------
letter(511,670,"k");
T(605,662,"Impact of learnt valence",{size:9.6});T(605,675,"(two-module model)",{size:9.6});
T(567,689,"MBON-γ1pedc>α/β",{size:9,bold:true,fill:RED});T(647,689,"MBON-α3",{size:9,bold:true,fill:ORG});
T(606,700,"Intact model",{size:9.6});T(606,752,"Without learnt valence",{size:9.6});
function kMap(a,b,y0,y1,m,c,xl,yl){
  heat(a,b,y0,y1,m);box(a,b,y0,y1,c,1);
  const tx=d3.scaleLinear().domain([0,3]).range([a+1,b-2]);
  const xa=svg.append("g").attr("transform",`translate(0,${y1})`).call(d3.axisBottom(tx).tickValues([0,1,2,3]).tickSize(2).tickPadding(1).tickFormat(xl?String:""));
  xa.selectAll("text").attr("font-size",10).attr("fill",INK).attr("font-family","inherit");xa.selectAll("line").attr("stroke","#555");xa.select("path").remove();
  const ty=d3.scaleLinear().domain([3,15]).range([y1-3,y0+3]);
  const ya=svg.append("g").attr("transform",`translate(${a},0)`).call(d3.axisLeft(ty).tickValues([3,9,15]).tickSize(2).tickPadding(1).tickFormat(yl?String:""));
  ya.selectAll("text").attr("font-size",10).attr("fill",INK).attr("font-family","inherit");ya.selectAll("line").attr("stroke","#555");ya.select("path").remove();
}
kMap(536,599,707,744,kG1,"#ee7a5c",false,true);kMap(615,678,707,744,kA3,"#f0b560",false,false);
kMap(536,599,758,796,kG1No,"#ee7a5c",true,true);kMap(615,678,758,796,kA3No,"#f0b560",true,false);
T(517,735,"Training bouts",{rot:-90,size:9.7});T(608,813,"Time after training (hr)",{size:9.7});
colorbar(688,7,717,762,0,-40);T(691,708,"0",{size:10});T(691,769,"-40",{size:10});
T(711,743,"CS+ vs. CS– bias (Δ spike·s⁻¹)",{rot:90,size:9.7});

// ---------- l ----------
letter(4,832,"l");
T(114,832,"Spacing effect (two-module model)",{size:9.6});
T(112,846,"MBON-γ1pedc>α/β",{size:10,bold:true,fill:RED});T(108,929,"MBON-α3",{size:10,bold:true,fill:ORG});
isiBars({ax:57,g0:[62,97,130],xEnd:156,dom:[-45,15],r:[918,862],ticks:[15,0,-15,-30,-45],data:lG1,err:lG1Err,labY:858,labs:[76,109,146],w:4.6,zc:"#888",zw:1.4,ac:"#444"});
isiBars({ax:57,g0:[63,97,130],xEnd:159,dom:[-45,15],r:[1002,946],ticks:[15,0,-15,-30,-45],data:lA3,err:lA3Err,labY:941,labs:[75,108,143],w:4.7,zc:"#888",zw:1.4,ac:"#444"});
T(17,930,"CS+ vs. CS– bias",{rot:-90,size:9.7});T(29,930,"(Δ spike·s⁻¹)",{rot:-90,size:9.7});
T(168,894,"ISI (s)",{a:"start",size:9.6});
[908,921,934,946,959].forEach((y,i)=>{svg.append("circle").attr("cx",172.6).attr("cy",y).attr("r",2.6).attr("fill",isiDots[i]);T(179,y,String(isi[i]),{a:"start",size:9.6});});

// ---------- m ----------
letter(231,833,"m");
T(358,831,"Valence- and timing-dependent extinction",{size:9.3});T(358,844,"on MBON-α3 activity (two-module model)",{size:9.3});
rect(249,855,5,7,"#000");T(257,858,"3×Ext",{a:"start",size:9.5});
T(313,858,"ACV/EtA",{size:10,bold:true,fill:"#4450b0"});T(396,858,"OCT/BEN",{size:10,bold:true,fill:"#c8323f"});
extMap(277,350,869,971,mAcv,ACV,{labels:true,xl:true});extMap(359,432,869,971,mOct,OCT,{labels:false,xl:true});
T(357,992,"Time after training (hr)",{size:9.6});
T(239,920,"Extinction time",{rot:-90,size:9.7});T(250,920,"(mins after training)",{rot:-90,size:9.7});
colorbar(439,6,900,947,0,-40);T(442,893,"0",{size:10});T(442,953,"-40",{size:10});
T(463,919,"CS+ vs. CS– bias",{rot:90,size:9.5});T(452,919,"(Δ spike·s⁻¹)",{rot:90,size:9.5});
</script></body></html>
